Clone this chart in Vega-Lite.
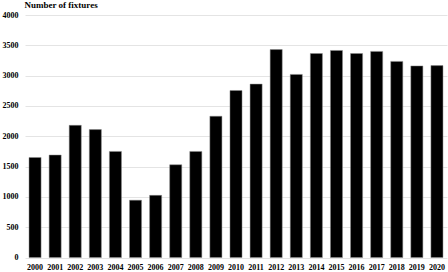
{
  "$schema": "https://vega.github.io/schema/vega-lite/v6.json",
  "autosize": {"type": "none"},
  "width": 422,
  "height": 242.5,
  "padding": {"left": 25, "top": 15, "right": 1, "bottom": 14.5},
  "background": "white",
  "config": {
    "view": {"stroke": null},
    "font": "Liberation Serif"
  },
  "data": {
    "values": [
      {"year": "2000", "fixtures": 1650},
      {"year": "2001", "fixtures": 1690},
      {"year": "2002", "fixtures": 2180},
      {"year": "2003", "fixtures": 2110},
      {"year": "2004", "fixtures": 1750},
      {"year": "2005", "fixtures": 945},
      {"year": "2006", "fixtures": 1025},
      {"year": "2007", "fixtures": 1530},
      {"year": "2008", "fixtures": 1750},
      {"year": "2009", "fixtures": 2330},
      {"year": "2010", "fixtures": 2755},
      {"year": "2011", "fixtures": 2860},
      {"year": "2012", "fixtures": 3430},
      {"year": "2013", "fixtures": 3020},
      {"year": "2014", "fixtures": 3365},
      {"year": "2015", "fixtures": 3415},
      {"year": "2016", "fixtures": 3365},
      {"year": "2017", "fixtures": 3400},
      {"year": "2018", "fixtures": 3235},
      {"year": "2019", "fixtures": 3160},
      {"year": "2020", "fixtures": 3165}
    ]
  },
  "mark": {"type": "bar", "color": "#000000", "stroke": "#8a8a8a", "strokeWidth": 0.5},
  "encoding": {
    "x": {
      "field": "year",
      "type": "ordinal",
      "scale": {"paddingInner": 0.4, "paddingOuter": 0.2},
      "axis": {
        "title": null,
        "labelAngle": 0,
        "labelFont": "Liberation Serif",
        "labelFontWeight": "bold",
        "labelFontSize": 8,
        "labelColor": "#000000",
        "labelPadding": 6,
        "ticks": false,
        "domain": false,
        "grid": false
      }
    },
    "y": {
      "field": "fixtures",
      "type": "quantitative",
      "scale": {"domain": [0, 4000], "nice": false},
      "axis": {
        "values": [0, 500, 1000, 1500, 2000, 2500, 3000, 3500, 4000],
        "format": "d",
        "title": "Number of fixtures",
        "titleAngle": 0,
        "titleX": -1,
        "titleY": -8,
        "titleAlign": "left",
        "titleBaseline": "alphabetic",
        "titleFont": "Liberation Serif",
        "titleFontWeight": "bold",
        "titleFontSize": 9,
        "titleColor": "#000000",
        "labelFont": "Liberation Serif",
        "labelFontWeight": "bold",
        "labelFontSize": 8,
        "labelColor": "#000000",
        "labelPadding": 7,
        "ticks": false,
        "domain": false,
        "grid": true,
        "gridColor": "#e4e4e4",
        "gridWidth": 1
      }
    }
  }
}
